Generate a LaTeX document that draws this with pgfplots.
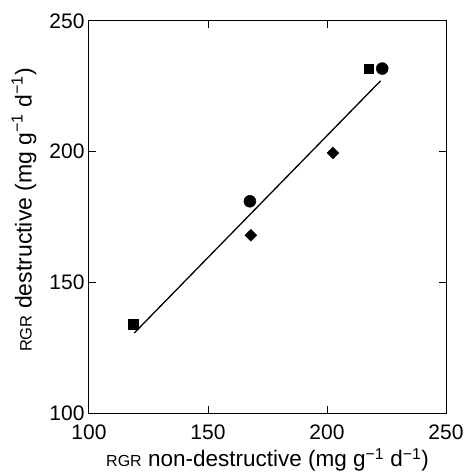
\documentclass[border=0pt]{standalone}
\usepackage{fontspec}
\setmainfont{Liberation Sans}
\usepackage{pgfplots}
\pgfplotsset{compat=1.18}
\newcommand{\mysup}[1]{\textsuperscript{#1}}
\begin{document}
\begin{tikzpicture}[x=1pt,y=1pt]
\useasboundingbox (-89,-61) rectangle (375,413);
\begin{axis}[
  at={(0,0)}, anchor=south west,
  scale only axis, width=357pt, height=392pt,
  xmin=100, xmax=250, ymin=100, ymax=250,
  xtick={100,150,200,250}, ytick={100,150,200,250},
  minor tick num=0,
  tick align=inside, major tick length=7pt,
  axis line style={line width=1pt},
  tick style={line width=1pt, black},
  /pgf/number format/assume math mode=true,
  tick label style={font=\fontsize{21}{23}\selectfont},
  xticklabel style={anchor=center, yshift=-19pt},
  yticklabel style={xshift=-1pt},
  xlabel={{\fontsize{16}{18}\selectfont RGR} non-destructive (mg g\mysup{\char"2212 1} d\mysup{\char"2212 1})},
  ylabel={{\fontsize{16.5}{18}\selectfont RGR} destructive (mg g\mysup{\char"2212 1} d\mysup{\char"2212 1})},
  xlabel style={font=\fontsize{22.5}{24}\selectfont, at={(axis description cs:0.5,0)}, anchor=center, yshift=-47pt},
  ylabel style={font=\fontsize{23}{25}\selectfont, at={(axis description cs:0,0.518)}, anchor=center, yshift=65pt},
  clip=false,
]
\addplot[black, line width=1.3pt] coordinates {(119,130.6) (222.5,227.1)};
\addplot[only marks, mark=square*, mark size=4.6pt, black] coordinates {(118.6,134) (217.4,231.8)};
\addplot[only marks, mark=*, mark size=6pt, black] coordinates {(167.6,181) (223.2,231.8)};
\addplot[only marks, mark=square*, mark size=4.2pt, mark options={rotate=45}, black] coordinates {(168,168) (202.5,199.5)};
\end{axis}
\end{tikzpicture}
\end{document}
